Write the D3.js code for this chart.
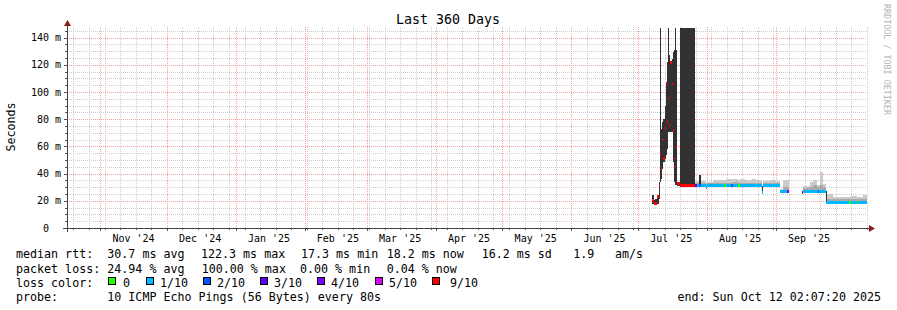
<!DOCTYPE html>
<html>
<head>
<meta charset="utf-8">
<script src="https://cdn.jsdelivr.net/npm/d3@7"></script>
<style>
  body { margin: 0; background: #fff; }
  svg text { font-family: 'DejaVu Sans Mono', monospace; white-space: pre; }
</style>
</head>
<body>
<svg id="chart" width="897" height="310"></svg>
<script>
// smokeping samples (step start times, values held until next row)
const times = [
  "2025-07-07 08","2025-07-08 01","2025-07-08 17","2025-07-09 14","2025-07-10 07",
  "2025-07-10 19","2025-07-11 10","2025-07-11 23","2025-07-12 12","2025-07-13 01",
  "2025-07-13 12","2025-07-14 00","2025-07-14 13","2025-07-15 02","2025-07-15 14",
  "2025-07-16 03","2025-07-16 16","2025-07-17 04","2025-07-17 17","2025-07-18 06",
  "2025-07-18 18","2025-07-20 02","2025-07-26 17","2025-07-27 14","2025-07-28 12",
  "2025-07-29 06","2025-07-31 10","2025-08-01 02","2025-08-03 19","2025-08-06 23",
  "2025-08-08 23","2025-08-09 12","2025-08-11 21","2025-08-12 14","2025-08-15 06",
  "2025-08-15 23","2025-08-18 05","2025-08-21 08","2025-08-23 03","2025-08-25 15",
  "2025-08-26 07","2025-08-29 11","2025-08-31 17","2025-09-02 22","2025-09-04 07",
  "2025-09-06 05","2025-09-06 20","2025-09-12 20","2025-09-13 07","2025-09-16 10",
  "2025-09-17 19","2025-09-19 14","2025-09-19 22","2025-09-20 15","2025-09-20 22",
  "2025-09-22 04","2025-09-23 12","2025-09-23 23","2025-09-26 19","2025-10-03 23",
  "2025-10-04 21","2025-10-07 10","2025-10-08 00","2025-10-10 06","2025-10-11 22"
];
// median rtt in ms
const median = [
  20, 17.9, 18, 22.8, 31.4,
  53.7, 43.6, 64.7, 51, 73,
  106, 78, 95, 75.5, 122,
  106, 71.8, 51, 45, 60,
  32.6, 31.3, 31.3, 31.2, 31.2,
  31.2, 29.5, 31.2, 31.2, 31.2,
  31.2, 31.2, 31.2, 31.2, 31.2,
  31.2, 31.2, 31.2, 31.2, 25.8,
  31.4, 31.4, 31.4, 26.6, 26.6,
  26.6, null, 26.2, 26.9, 26.9,
  26.9, 26.9, 26.9, 26.9, 26.9,
  26.9, 18.4, 18.4, 18.4, 18.4,
  18.4, 18.4, 18.4, 18.4, null
];
// lost pings out of 10
const loss = [
  9, 9, 9, 9, 9,
  9, 9, 9, 9, 9,
  9, 9, 9, 9, 9,
  9, 9, 9, 9, 9,
  9, 9, 3, 1, 2,
  1, 1, 1, 1, 1,
  0, 1, 2, 1, 0,
  1, 1, 1, 1, 1,
  1, 1, 1, 1, 1,
  4, null, 9, 1, 1,
  1, 1, 2, 1, 1,
  1, 1, 1, 1, 0,
  1, 0, 1, 1, null
];
// top of the light grey smoke
const smokeLight = [
  null, null, null, null, null,
  null, null, null, null, null,
  null, null, null, null, null,
  null, null, null, null, null,
  null, null, 34, 34.8, 34.8,
  34.5, 33.3, 34.1, 35.3, 35.3,
  35.5, 36, 36, 36, 35.5,
  36, 35.3, 35.8, 35.3, 28,
  34.8, 35.5, 34.8, 29, 35.3,
  35, null, null, 30.9, 34,
  35.3, 31.6, 31.6, 31.6, 41.4,
  32, 24, 25, 23, 23,
  23.5, 22.5, 22.5, 24.3, null
];
// top of the mid grey smoke
const smokeMid = [
  null, null, null, null, null,
  null, null, null, null, null,
  null, null, null, null, null,
  null, null, null, null, null,
  null, null, 33, 33, 33,
  33, 32.3, 32.8, 33, 33.3,
  33.3, 33.3, 33.3, 33.5, 33.3,
  33.3, 33, 33.3, 33, 27,
  33, 33.3, 33, 28, 30.4,
  30.4, null, null, 29.5, 30,
  31.6, 30, 30, 30, 31.6,
  30, 21, 21.5, 21, 21,
  21, 21, 21, 21.3, null
];
// dark smoke range (few pings came back)
const darkLo = [
  17.4, 17, 17, 17.6, 21,
  34, 36, 43.6, 48.5, 51,
  53.7, 58, 70.6, 70.6, 70.6,
  70.6, 48.5, 33.8, 31.6, 31.6,
  31, 31, null, null, 30,
  null, null, null, null, null,
  null, null, null, null, null,
  null, null, null, null, 25,
  null, null, null, null, null,
  null, null, null, null, null,
  null, null, null, null, null,
  null, 18, null, null, null,
  null, null, null, null, null
];
const darkHi = [
  24, 20.6, 21.5, 24, 34,
  150, 73, 78, 80, 90,
  107, 122, 150, 127, 123,
  124, 129, 130.6, 150, 131,
  34, 150, null, null, 39,
  null, null, null, null, null,
  null, null, null, null, null,
  null, null, null, null, 31.2,
  null, null, null, null, null,
  null, null, null, null, null,
  null, null, null, null, null,
  null, 26.9, null, null, null,
  null, null, null, null, null
];

const yTicks = [0, 20, 40, 60, 80, 100, 120, 140];
const yTickLabels = ["0  ", "20 m", "40 m", "60 m", "80 m", "100 m", "120 m", "140 m"];
const monthStarts = ["2024-11-01","2024-12-01","2025-01-01","2025-02-01","2025-03-01","2025-04-01",
  "2025-05-01","2025-06-01","2025-07-01","2025-08-01","2025-09-01"];
const monthLabels = ["Nov '24","Dec '24","Jan '25","Feb '25","Mar '25","Apr '25",
  "May '25","Jun '25","Jul '25","Aug '25","Sep '25"];

const lossColors = ["#26ff00","#00b8ff","#0059ff","#5e00ff","#7e00ff","#dd00ff","#ff0000"];
const lossLabels = ["0","1/10","2/10","3/10","4/10","5/10","9/10"];

const legendRtt = ["median rtt:","30.7 ms avg","122.3 ms max","17.3 ms min","18.2 ms now","16.2 ms sd","1.9","am/s"];
const legendLoss = ["packet loss:","24.94 % avg","100.00 % max","0.00 % min","0.04 % now"];
const legendProbe = ["probe:","10 ICMP Echo Pings (56 Bytes) every 80s"];
const endLabel = "end: Sun Oct 12 02:07:20 2025";

// ---- setup
const svg = d3.select("#chart");
const parse = d3.utcParse("%Y-%m-%d %H");
const parseDay = d3.utcParse("%Y-%m-%d");
const endTime = new Date(Date.UTC(2025, 9, 12, 2, 7, 20));
const startTime = new Date(endTime.getTime() - 360 * 864e5);

const pLeft = 67, pRight = 867, pTop = 28, pBottom = 228;
const x = d3.scaleUtc([startTime, endTime], [pLeft, pRight]);
const y = d3.scaleLinear([0, 147], [pBottom, pTop]);
const yc = v => y(Math.min(v, 147));

const minorGrid = "#cdcdcd", majorGrid = "#f2a0a0";

svg.append("rect").attr("width", 897).attr("height", 310).attr("fill", "#fff");

// ---- grid
const grid = svg.append("g").attr("shape-rendering", "crispEdges");
d3.range(5, 147, 5).filter(v => v % 20 !== 0).forEach(v => {
  const yy = Math.round(y(v)) + 0.5;
  grid.append("line").attr("x1", pLeft).attr("x2", pRight).attr("y1", yy).attr("y2", yy)
    .attr("stroke", minorGrid).attr("stroke-dasharray", "1,1");
  grid.append("line").attr("x1", pLeft - 2).attr("x2", pLeft).attr("y1", yy).attr("y2", yy)
    .attr("stroke", "#555");
});
d3.utcSunday.range(startTime, endTime).forEach(t => {
  const xx = Math.round(x(t)) + 0.5;
  grid.append("line").attr("x1", xx).attr("x2", xx).attr("y1", pTop - 1).attr("y2", pBottom)
    .attr("stroke", minorGrid).attr("stroke-dasharray", "1,1");
  grid.append("line").attr("x1", xx).attr("x2", xx).attr("y1", pBottom).attr("y2", pBottom + 2)
    .attr("stroke", "#555");
});
monthStarts.map(parseDay).forEach(t => {
  const xx = Math.round(x(t)) + 0.5;
  grid.append("line").attr("x1", xx).attr("x2", xx).attr("y1", pTop - 1).attr("y2", pBottom)
    .attr("stroke", majorGrid).attr("stroke-dasharray", "1,1");
  grid.append("line").attr("x1", xx).attr("x2", xx).attr("y1", pBottom).attr("y2", pBottom + 3)
    .attr("stroke", "#555");
});
yTicks.slice(1).forEach(v => {
  const yy = Math.round(y(v)) + 0.5;
  grid.append("line").attr("x1", pLeft).attr("x2", pRight).attr("y1", yy).attr("y2", yy)
    .attr("stroke", majorGrid).attr("stroke-dasharray", "1,1");
  grid.append("line").attr("x1", pLeft - 3).attr("x2", pLeft).attr("y1", yy).attr("y2", yy)
    .attr("stroke", "#555");
});

// ---- smoke + median, one step per sample
const data = times.map((t, i) => ({
  t0: parse(t),
  t1: i < times.length - 1 ? parse(times[i + 1]) : parse(t),
  med: median[i], loss: loss[i],
  light: smokeLight[i], mid: smokeMid[i],
  dLo: darkLo[i], dHi: darkHi[i]
})).slice(0, -1);

const px = d => {
  const a = Math.round(x(d.t0)), b = Math.round(x(d.t1));
  return [a, Math.max(b - a, 1)];
};
const lossIdx = l => (l >= 9 ? 6 : Math.min(l, 5));

const plot = svg.append("g").attr("shape-rendering", "crispEdges");
plot.selectAll("rect.light").data(data.filter(d => d.light != null)).join("rect")
  .attr("x", d => px(d)[0]).attr("width", d => px(d)[1])
  .attr("y", d => yc(d.light)).attr("height", d => y(d.med) - yc(d.light))
  .attr("fill", "#cbcbcb");
plot.selectAll("rect.mid").data(data.filter(d => d.mid != null)).join("rect")
  .attr("x", d => px(d)[0]).attr("width", d => px(d)[1])
  .attr("y", d => yc(d.mid)).attr("height", d => y(d.med) - yc(d.mid))
  .attr("fill", "#a9a9a9");
plot.selectAll("rect.dark").data(data.filter(d => d.dHi != null)).join("rect")
  .attr("x", d => px(d)[0]).attr("width", d => px(d)[1])
  .attr("y", d => yc(d.dHi)).attr("height", d => y(d.dLo) - yc(d.dHi))
  .attr("fill", "#323232");
plot.selectAll("rect.med").data(data.filter(d => d.med != null)).join("rect")
  .attr("x", d => px(d)[0]).attr("width", d => px(d)[1])
  .attr("y", d => y(d.med) - 1.5).attr("height", 3)
  .attr("fill", d => lossColors[lossIdx(d.loss)]);

// ---- axes
const axis = svg.append("g").attr("shape-rendering", "crispEdges");
axis.append("line").attr("x1", pLeft - 4).attr("x2", pRight + 3)
  .attr("y1", pBottom + 0.5).attr("y2", pBottom + 0.5).attr("stroke", "#444");
axis.append("line").attr("x1", pLeft + 0.5).attr("x2", pLeft + 0.5)
  .attr("y1", pBottom + 4).attr("y2", pTop - 3).attr("stroke", "#444");
svg.append("path").attr("d", `M${pLeft - 3},${pTop - 2}L${pLeft + 4},${pTop - 2}L${pLeft + 0.5},${pTop - 8}Z`)
  .attr("fill", "#8b1a1a");
svg.append("path").attr("d", `M${pRight + 2},${pBottom - 3}L${pRight + 2},${pBottom + 4}L${pRight + 8},${pBottom + 0.5}Z`)
  .attr("fill", "#8b1a1a");

svg.selectAll("text.ytick").data(yTicks).join("text")
  .attr("x", 61).attr("y", v => y(v) + 3.6)
  .attr("text-anchor", "end").attr("font-size", 10).attr("fill", "#000")
  .text((v, i) => yTickLabels[i]);

svg.selectAll("text.xtick").data(monthStarts).join("text")
  .attr("x", s => x(d3.utcDay.offset(parseDay(s), 15)))
  .attr("y", 242).attr("text-anchor", "middle").attr("font-size", 10)
  .text((s, i) => monthLabels[i]);

// ---- titles
svg.append("text").attr("x", 448).attr("y", 24).attr("text-anchor", "middle")
  .attr("font-size", 13.3).text("Last 360 Days");
svg.append("text").attr("transform", "translate(14.5,127) rotate(-90)")
  .attr("text-anchor", "middle").attr("font-size", 11.6).text("Seconds");
svg.append("text").attr("transform", "translate(884,4) rotate(90)")
  .attr("font-size", 8.4).attr("fill", "#b4b4b4").text("RRDTOOL / TOBI OETIKER");

// ---- legend
const legendFont = 11.66;
const rows = [258.3, 272.5, 286.6, 300.7];
const rttX = [16, 107.3, 201, 301, 386.7, 481.7, 573.3, 615];
const lossX = [16, 107.3, 201.7, 300, 386.7];
legendRtt.forEach((s, i) => svg.append("text").attr("x", rttX[i]).attr("y", rows[0])
  .attr("font-size", legendFont).text(s));
legendLoss.forEach((s, i) => svg.append("text").attr("x", lossX[i]).attr("y", rows[1])
  .attr("font-size", legendFont).text(s));
svg.append("text").attr("x", 16).attr("y", rows[2]).attr("font-size", legendFont).text("loss color:");
const boxX = [108, 146, 203, 260, 317, 375, 432];
const labX = [123, 160, 217, 274, 331, 389, 450];
lossColors.forEach((c, i) => {
  svg.append("rect").attr("x", boxX[i] + 0.5).attr("y", 277.5).attr("width", 7).attr("height", 7)
    .attr("fill", c).attr("stroke", "#000").attr("shape-rendering", "crispEdges");
  svg.append("text").attr("x", labX[i]).attr("y", rows[2]).attr("font-size", legendFont)
    .text(lossLabels[i]);
});
legendProbe.forEach((s, i) => svg.append("text").attr("x", [16, 107.3][i]).attr("y", rows[3])
  .attr("font-size", legendFont).text(s));
svg.append("text").attr("x", 881).attr("y", rows[3]).attr("text-anchor", "end")
  .attr("font-size", legendFont).text(endLabel);
</script>
</body>
</html>
